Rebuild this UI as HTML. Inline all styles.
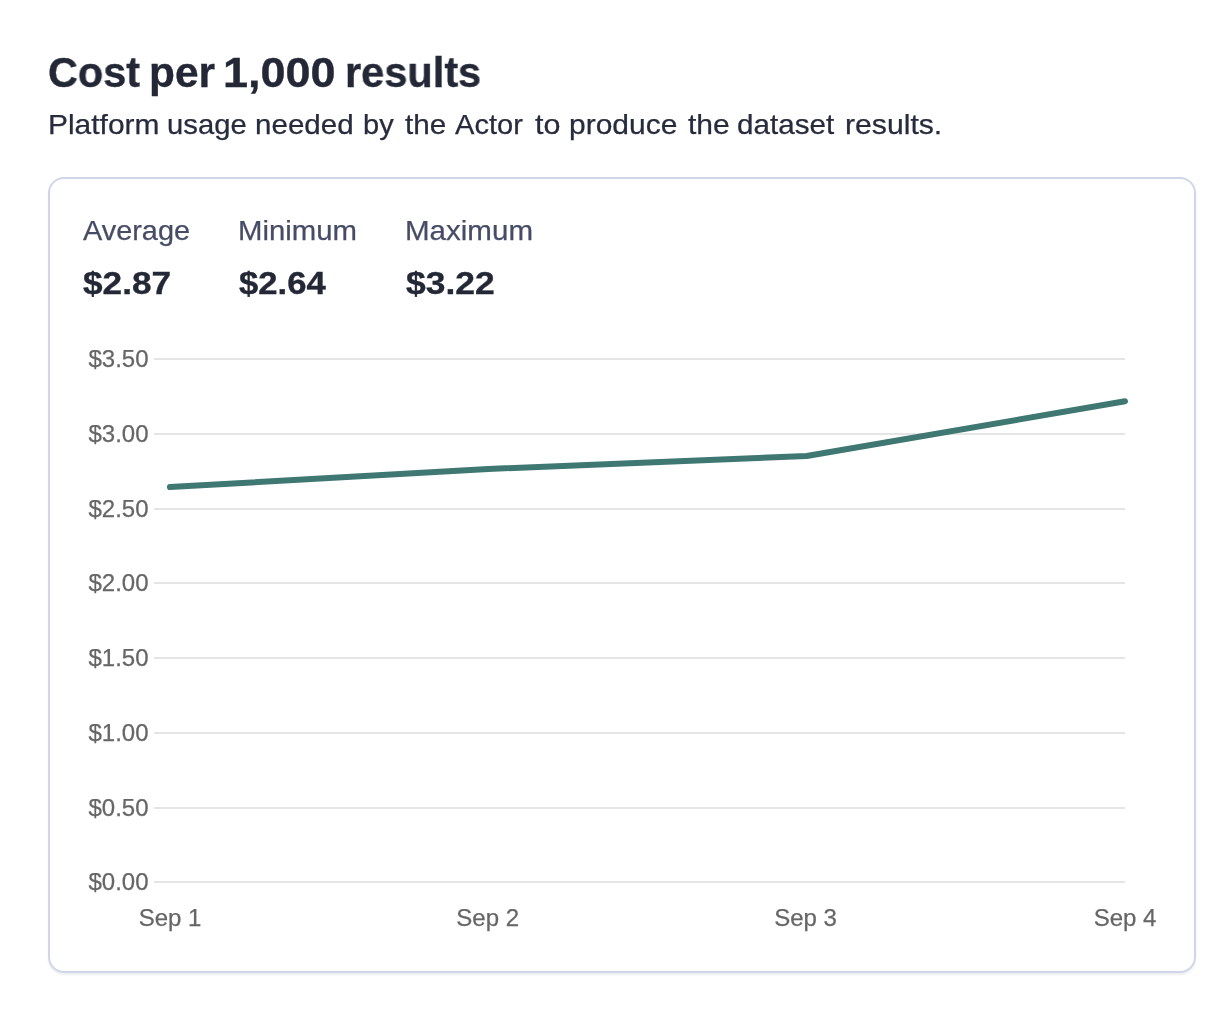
<!DOCTYPE html>
<html><head><meta charset="utf-8">
<style>
html,body{margin:0;padding:0;background:#fff;}
body{width:1230px;height:1022px;position:relative;overflow:hidden;font-family:"Liberation Sans",sans-serif;}
.w{position:absolute;white-space:nowrap;line-height:1;transform-origin:0 0;will-change:transform;}
#card{position:absolute;left:48px;top:177px;width:1144px;height:792px;border:2px solid #d1d5e9;border-radius:16px;box-shadow:0 2px 2px rgba(40,45,80,0.08);}
svg{position:absolute;left:0;top:0;will-change:transform;}
svg text{font-family:"Liberation Sans",sans-serif;font-size:24px;fill:#666;stroke:#666;stroke-width:0.25px;}
</style></head><body>
<div id="card"></div>
<div class="w" style="left:47.69px;top:52.25px;font-size:42px;font-weight:bold;color:#242736;-webkit-text-stroke:0.35px #242736;transform:scaleX(0.9866)">Cost</div>
<div class="w" style="left:148.80px;top:52.25px;font-size:42px;font-weight:bold;color:#242736;-webkit-text-stroke:0.35px #242736;transform:scaleX(1.0099)">per</div>
<div class="w" style="left:223.15px;top:52.25px;font-size:42px;font-weight:bold;color:#242736;-webkit-text-stroke:0.35px #242736;transform:scaleX(1.0715)">1,000</div>
<div class="w" style="left:344.76px;top:52.25px;font-size:42px;font-weight:bold;color:#242736;-webkit-text-stroke:0.35px #242736;transform:scaleX(0.9892)">results</div>
<div class="w" style="left:48.30px;top:110.90px;font-size:28px;font-weight:normal;color:#272b3d;-webkit-text-stroke:0.25px #272b3d;transform:scaleX(1.0689)">Platform</div>
<div class="w" style="left:166.95px;top:110.90px;font-size:28px;font-weight:normal;color:#272b3d;-webkit-text-stroke:0.25px #272b3d;transform:scaleX(1.0443)">usage</div>
<div class="w" style="left:255.27px;top:110.90px;font-size:28px;font-weight:normal;color:#272b3d;-webkit-text-stroke:0.25px #272b3d;transform:scaleX(1.0557)">needed</div>
<div class="w" style="left:363.24px;top:110.90px;font-size:28px;font-weight:normal;color:#272b3d;-webkit-text-stroke:0.25px #272b3d;transform:scaleX(1.0365)">by</div>
<div class="w" style="left:404.71px;top:110.90px;font-size:28px;font-weight:normal;color:#272b3d;-webkit-text-stroke:0.25px #272b3d;transform:scaleX(1.0598)">the</div>
<div class="w" style="left:455.44px;top:110.90px;font-size:28px;font-weight:normal;color:#272b3d;-webkit-text-stroke:0.25px #272b3d;transform:scaleX(1.0376)">Actor</div>
<div class="w" style="left:534.69px;top:110.90px;font-size:28px;font-weight:normal;color:#272b3d;-webkit-text-stroke:0.25px #272b3d;transform:scaleX(1.0877)">to</div>
<div class="w" style="left:569.18px;top:110.90px;font-size:28px;font-weight:normal;color:#272b3d;-webkit-text-stroke:0.25px #272b3d;transform:scaleX(1.0711)">produce</div>
<div class="w" style="left:687.60px;top:110.90px;font-size:28px;font-weight:normal;color:#272b3d;-webkit-text-stroke:0.25px #272b3d;transform:scaleX(1.0732)">the</div>
<div class="w" style="left:737.28px;top:110.90px;font-size:28px;font-weight:normal;color:#272b3d;-webkit-text-stroke:0.25px #272b3d;transform:scaleX(1.0576)">dataset</div>
<div class="w" style="left:844.83px;top:110.90px;font-size:28px;font-weight:normal;color:#272b3d;-webkit-text-stroke:0.25px #272b3d;transform:scaleX(1.0774)">results.</div>
<div class="w" style="left:82.74px;top:216.80px;font-size:28px;font-weight:normal;color:#474c66;-webkit-text-stroke:0.25px #474c66;transform:scaleX(1.0315)">Average</div>
<div class="w" style="left:237.94px;top:216.80px;font-size:28px;font-weight:normal;color:#474c66;-webkit-text-stroke:0.25px #474c66;transform:scaleX(1.0482)">Minimum</div>
<div class="w" style="left:404.92px;top:216.80px;font-size:28px;font-weight:normal;color:#474c66;-webkit-text-stroke:0.25px #474c66;transform:scaleX(1.0547)">Maximum</div>
<div class="w" style="left:82.77px;top:266.64px;font-size:32.2px;font-weight:bold;color:#242736;-webkit-text-stroke:0.35px #242736;transform:scaleX(1.0932)">$2.87</div>
<div class="w" style="left:239.38px;top:266.64px;font-size:32.2px;font-weight:bold;color:#242736;-webkit-text-stroke:0.35px #242736;transform:scaleX(1.0767)">$2.64</div>
<div class="w" style="left:406.36px;top:266.64px;font-size:32.2px;font-weight:bold;color:#242736;-webkit-text-stroke:0.35px #242736;transform:scaleX(1.1018)">$3.22</div>
<svg width="1230" height="1022" viewBox="0 0 1230 1022">
<g stroke="#e5e5e5" stroke-width="2" shape-rendering="crispEdges">
<line x1="154" x2="1125" y1="359" y2="359"/>
<line x1="154" x2="1125" y1="434" y2="434"/>
<line x1="154" x2="1125" y1="509" y2="509"/>
<line x1="154" x2="1125" y1="583" y2="583"/>
<line x1="154" x2="1125" y1="658" y2="658"/>
<line x1="154" x2="1125" y1="733" y2="733"/>
<line x1="154" x2="1125" y1="808" y2="808"/>
<line x1="154" x2="1125" y1="882" y2="882"/>
</g>
<g text-anchor="end">
<text x="148.5" y="367">$3.50</text>
<text x="148.5" y="442">$3.00</text>
<text x="148.5" y="517">$2.50</text>
<text x="148.5" y="591">$2.00</text>
<text x="148.5" y="666">$1.50</text>
<text x="148.5" y="741">$1.00</text>
<text x="148.5" y="816">$0.50</text>
<text x="148.5" y="890">$0.00</text>
</g>
<g text-anchor="middle">
<text x="170" y="926">Sep 1</text>
<text x="487.7" y="926">Sep 2</text>
<text x="805.6" y="926">Sep 3</text>
<text x="1125" y="926">Sep 4</text>
</g>
<polyline fill="none" stroke="#3f7772" stroke-width="6" stroke-linecap="round" stroke-linejoin="round" points="170,487 488.3,469 806.7,456 1125,401.3"/>
</svg>
</body></html>
